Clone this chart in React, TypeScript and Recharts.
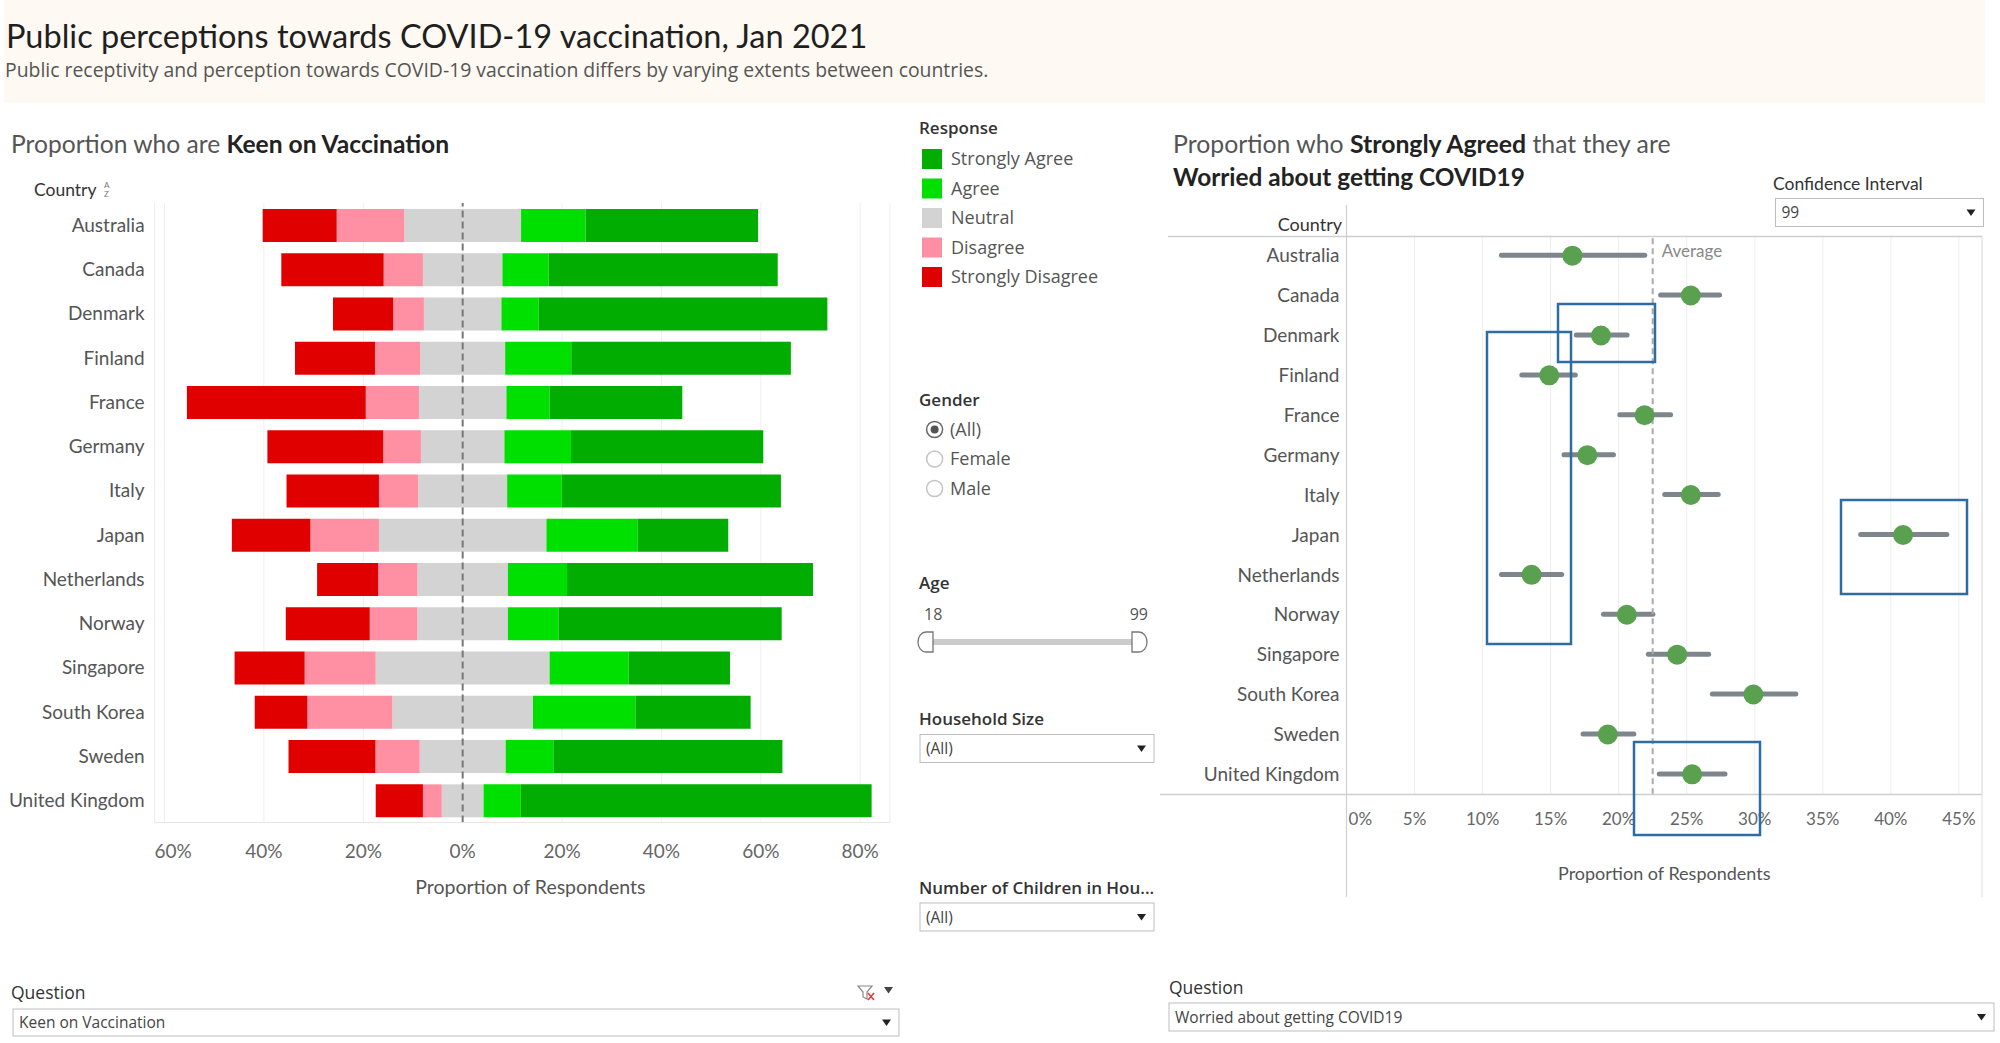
import React from "react"
import {
  BarChart,
  Bar,
  ComposedChart,
  Line,
  XAxis,
  YAxis,
  CartesianGrid,
  ReferenceLine,
} from "recharts"

const VIZ_FONT = "Lato, 'Open Sans', sans-serif"
const UI_FONT = "'Open Sans', Lato, sans-serif"

const countries = [
  "Australia",
  "Canada",
  "Denmark",
  "Finland",
  "France",
  "Germany",
  "Italy",
  "Japan",
  "Netherlands",
  "Norway",
  "Singapore",
  "South Korea",
  "Sweden",
  "United Kingdom",
]

// Keen on Vaccination, % of respondents per answer
const stronglyDisagree = [14.9, 20.6, 12.1, 16.1, 36.0, 23.3, 18.6, 15.8, 12.3, 16.9, 14.1, 10.6, 17.5, 9.5]
const disagree = [13.6, 7.9, 6.2, 9.1, 10.7, 7.6, 7.9, 13.8, 7.9, 9.6, 14.3, 17.1, 8.9, 3.8]
const neutral = [23.5, 16.0, 15.6, 17.1, 17.6, 16.8, 17.9, 33.7, 18.2, 18.2, 35.0, 28.3, 17.3, 8.4]
const agree = [13.0, 9.3, 7.5, 13.3, 8.7, 13.4, 11.0, 18.4, 11.9, 10.2, 15.9, 20.6, 9.6, 7.5]
const stronglyAgree = [34.7, 46.1, 58.1, 44.2, 26.7, 38.7, 44.1, 18.2, 49.5, 44.9, 20.4, 23.2, 46.1, 70.6]
const likertTicks = [-60, -40, -20, 0, 20, 40, 60, 80]

// Strongly agreed: worried about getting COVID19 (%, 99% interval)
const worriedEstimate = [16.6, 25.3, 18.7, 14.9, 21.9, 17.7, 25.3, 40.9, 13.6, 20.6, 24.3, 29.9, 19.2, 25.4]
const worriedLow = [11.2, 22.9, 16.7, 12.7, 19.9, 15.8, 23.2, 37.6, 11.2, 18.7, 22.0, 26.7, 17.2, 22.8]
const worriedHigh = [22.1, 27.6, 20.8, 17.0, 24.0, 19.8, 27.5, 44.3, 16.0, 22.7, 26.8, 33.2, 21.3, 28.0]
const worriedAverage = 22.5
const worriedTicks = [0, 5, 10, 15, 20, 25, 30, 35, 40, 45]

const responses = ["Strongly Agree", "Agree", "Neutral", "Disagree", "Strongly Disagree"]
const responseColors = ["#00ad00", "#00e000", "#d3d3d3", "#ff8fa3", "#e00000"]
const genderOptions = ["(All)", "Female", "Male"]

const likertRows = countries.map((country, i) => ({
  country,
  neutralLeft: -neutral[i] / 2,
  disagree: -disagree[i],
  stronglyDisagree: -stronglyDisagree[i],
  neutralRight: neutral[i] / 2,
  agree: agree[i],
  stronglyAgree: stronglyAgree[i],
}))

const worriedRows = countries.map((country, i) => ({
  country,
  ci: [worriedLow[i], worriedHigh[i]],
  estimate: worriedEstimate[i],
}))

function LikertTick(props: any) {
  const { x, y, payload, index } = props
  const first = index === 0
  return (
    <text
      x={first ? x - 10 : x}
      y={y + 33}
      textAnchor={first ? "start" : "middle"}
      fill="#666"
      fontSize={19}
      fontFamily={VIZ_FONT}
    >
      {Math.abs(payload.value)}%
    </text>
  )
}

function WorriedTick(props: any) {
  const { x, y, payload, index } = props
  const first = index === 0
  return (
    <text
      x={first ? x + 2 : x}
      y={y + 29}
      textAnchor={first ? "start" : "middle"}
      fill="#666"
      fontSize={17}
      fontFamily={VIZ_FONT}
    >
      {payload.value}%
    </text>
  )
}

function Dropdown({ x, y, w, h, text }: { x: number; y: number; w: number; h: number; text: string }) {
  return (
    <g>
      <rect x={x} y={y} width={w} height={h} fill="#fff" stroke="#bdbdbd" />
      <text x={x + 6} y={y + h / 2 + 5.5} fontSize={15.5} fill="#444" fontFamily={UI_FONT}>
        {text}
      </text>
      <path d={`M${x + w - 17},${y + h / 2 - 3} l9,0 l-4.5,6.5 z`} fill="#222" />
    </g>
  )
}

function Overlay() {
  return (
    <svg
      width={2000}
      height={1043}
      style={{ position: "absolute", left: 0, top: 0, pointerEvents: "none" }}
    >
      {/* header band */}
      <rect x={4} y={0} width={1981} height={103} fill="#fef9f2" />
      <text x={6} y={48} fontFamily={VIZ_FONT} fontSize={32.5} fill="#1f1f1f">
        Public perceptions towards COVID-19 vaccination, Jan 2021
      </text>
      <text x={5} y={77} fontFamily={UI_FONT} fontSize={19.4} fill="#555">
        Public receptivity and perception towards COVID-19 vaccination differs by varying extents between countries.
      </text>

      {/* left sheet */}
      <text x={11} y={153} fontFamily={VIZ_FONT} fontSize={24.6} fill="#555">
        Proportion who are{" "}
        <tspan fontWeight={700} fill="#222">
          Keen on Vaccination
        </tspan>
      </text>
      <text x={34} y={196} fontFamily={VIZ_FONT} fontSize={17.5} fill="#333">
        Country
      </text>
      <text x={104} y={188} fontFamily={VIZ_FONT} fontSize={8} fill="#777">
        A
      </text>
      <text x={104} y={197} fontFamily={VIZ_FONT} fontSize={8} fill="#777">
        Z
      </text>

      {/* middle: legend and filters */}
      <text x={919} y={134} fontFamily={UI_FONT} fontSize={17} fontWeight={600} fill="#333">
        Response
      </text>
      {responses.map((r, i) => (
        <g key={r}>
          <rect x={922} y={149 + i * 29.5} width={20} height={20} fill={responseColors[i]} />
          <text x={951} y={165 + i * 29.5} fontFamily={UI_FONT} fontSize={18} fill="#555">
            {r}
          </text>
        </g>
      ))}

      <text x={919} y={406} fontFamily={UI_FONT} fontSize={17} fontWeight={600} fill="#333">
        Gender
      </text>
      {genderOptions.map((g, i) => (
        <g key={g}>
          <circle
            cx={934.6}
            cy={429.5 + i * 29.5}
            r={8}
            fill="#fff"
            stroke={i === 0 ? "#666" : "#c4c4c4"}
            strokeWidth={1.5}
          />
          {i === 0 && <circle cx={934.6} cy={429.5} r={4} fill="#555" />}
          <text x={950} y={435.5 + i * 29.5} fontFamily={UI_FONT} fontSize={18} fill="#555">
            {g}
          </text>
        </g>
      ))}

      <text x={919} y={589} fontFamily={UI_FONT} fontSize={17} fontWeight={600} fill="#333">
        Age
      </text>
      <text x={924} y={620} fontFamily={UI_FONT} fontSize={16} fill="#555">
        18
      </text>
      <text x={1148} y={620} textAnchor="end" fontFamily={UI_FONT} fontSize={16} fill="#555">
        99
      </text>
      <rect x={933} y={639} width={199} height={6} fill="#cccccc" />
      <path d="M933,632 H926 A8,10 0 0 0 926,652 H933 Z" fill="#fff" stroke="#777" strokeWidth={1.3} />
      <path d="M1132,632 H1139 A8,10 0 0 1 1139,652 H1132 Z" fill="#fff" stroke="#777" strokeWidth={1.3} />

      <text x={919} y={725} fontFamily={UI_FONT} fontSize={17} fontWeight={600} fill="#333">
        Household Size
      </text>
      <Dropdown x={920} y={734.5} w={234} h={28} text="(All)" />
      <text x={919} y={894} fontFamily={UI_FONT} fontSize={17} fontWeight={600} fill="#333">
        Number of Children in Hou...
      </text>
      <Dropdown x={920} y={903} w={234} h={28} text="(All)" />

      {/* bottom question filters */}
      <text x={11} y={999} fontFamily={UI_FONT} fontSize={17.5} fill="#333">
        Question
      </text>
      <path d="M858,986 h14 l-5,6 v7 l-4,-2 v-5 z" fill="none" stroke="#888" strokeWidth={1.2} />
      <path d="M868,993 l6,7 M874,993 l-6,7" stroke="#e23b3b" strokeWidth={1.6} />
      <path d="M884,987 l9,0 l-4.5,6.5 z" fill="#444" />
      <Dropdown x={13} y={1009} w={886} h={27} text="Keen on Vaccination" />

      <text x={1169} y={994} fontFamily={UI_FONT} fontSize={17.5} fill="#333">
        Question
      </text>
      <Dropdown x={1169} y={1003} w={825} h={28} text="Worried about getting COVID19" />

      {/* right sheet */}
      <text x={1173} y={153} fontFamily={VIZ_FONT} fontSize={24.8} fill="#555">
        Proportion who{" "}
        <tspan fontWeight={700} fill="#222">
          Strongly Agreed
        </tspan>{" "}
        that they are
      </text>
      <text x={1173} y={186} fontFamily={VIZ_FONT} fontSize={24.4} fontWeight={700} fill="#222">
        Worried about getting COVID19
      </text>
      <text x={1773} y={189.5} fontFamily={VIZ_FONT} fontSize={17.5} fill="#333">
        Confidence Interval
      </text>
      <Dropdown x={1775.5} y={198.5} w={208} h={28} text="99" />
      <text x={1342} y={231} textAnchor="end" fontFamily={VIZ_FONT} fontSize={18} fill="#333">
        Country
      </text>
      <line x1={1168} x2={1982} y1={236.5} y2={236.5} stroke="#cfcfcf" strokeWidth={1.5} />
      <line x1={1160} x2={1982} y1={794.5} y2={794.5} stroke="#cfcfcf" strokeWidth={1.5} />
      <line x1={1346.5} x2={1346.5} y1={205} y2={897} stroke="#cfcfcf" strokeWidth={1.2} />
      <line x1={1982} x2={1982} y1={237} y2={897} stroke="#e4e4e4" strokeWidth={1.2} />

      {/* highlight boxes */}
      <g fill="none" stroke="#2e6da4" strokeWidth={2.5}>
        <rect x={1558} y={304} width={97} height={58} />
        <rect x={1487} y={332} width={84} height={312} />
        <rect x={1841} y={500} width={126} height={94} />
        <rect x={1634} y={742} width={126} height={93} />
      </g>
    </svg>
  )
}

export default function App() {
  return (
    <div
      style={{
        position: "absolute",
        left: 0,
        top: 0,
        width: 2000,
        height: 1043,
        overflow: "hidden",
        background: "#fff",
        fontFamily: VIZ_FONT,
      }}
    >
      <div style={{ position: "absolute", left: 0, top: 0 }}>
        <BarChart
          width={900}
          height={930}
          data={likertRows}
          layout="vertical"
          stackOffset="sign"
          barSize={33}
          margin={{ top: 203, right: 10, bottom: 17.4, left: 0 }}
        >
          <CartesianGrid horizontal={false} stroke="#efefef" />
          <XAxis
            type="number"
            domain={[-62, 86]}
            ticks={likertTicks}
            allowDataOverflow
            tick={<LikertTick />}
            tickLine={false}
            tickSize={0}
            axisLine={{ stroke: "#e6e6e6" }}
            height={90}
            label={{
              value: "Proportion of Respondents",
              position: "insideBottom",
              offset: 19,
              dx: 8,
              fill: "#555",
              fontSize: 19.5,
            }}
          />
          <YAxis
            type="category"
            dataKey="country"
            width={154.6}
            interval={0}
            tickLine={false}
            tickSize={0}
            tickMargin={10}
            axisLine={{ stroke: "#eeeeee" }}
            tick={{ fill: "#555", fontSize: 19 }}
          />
          <Bar dataKey="neutralLeft" stackId="likert" fill={responseColors[2]} isAnimationActive={false} />
          <Bar dataKey="disagree" stackId="likert" fill={responseColors[3]} isAnimationActive={false} />
          <Bar dataKey="stronglyDisagree" stackId="likert" fill={responseColors[4]} isAnimationActive={false} />
          <Bar dataKey="neutralRight" stackId="likert" fill={responseColors[2]} isAnimationActive={false} />
          <Bar dataKey="agree" stackId="likert" fill={responseColors[1]} isAnimationActive={false} />
          <Bar dataKey="stronglyAgree" stackId="likert" fill={responseColors[0]} isAnimationActive={false} />
          <ReferenceLine x={0} stroke="#777" strokeWidth={2} strokeDasharray="7 4" />
        </BarChart>
      </div>

      <div style={{ position: "absolute", left: 1160, top: 0 }}>
        <ComposedChart
          width={840}
          height={930}
          data={worriedRows}
          layout="vertical"
          margin={{ top: 235.7, right: 18, bottom: 40.7, left: 0 }}
        >
          <CartesianGrid horizontal={false} stroke="#eeeeee" />
          <XAxis
            type="number"
            domain={[0, 46.7]}
            ticks={worriedTicks}
            allowDataOverflow
            tick={<WorriedTick />}
            tickLine={false}
            tickSize={0}
            axisLine={false}
            height={95}
            label={{
              value: "Proportion of Respondents",
              position: "insideBottom",
              offset: 9,
              fill: "#555",
              fontSize: 18,
            }}
          />
          <YAxis
            type="category"
            dataKey="country"
            width={186.5}
            interval={0}
            tickLine={false}
            tickSize={0}
            tickMargin={7}
            axisLine={false}
            tick={{ fill: "#555", fontSize: 19 }}
          />
          <ReferenceLine
            x={worriedAverage}
            stroke="#aaaaaa"
            strokeWidth={2}
            strokeDasharray="6 4"
            label={{ value: "Average", position: "insideTopLeft", offset: 9, fill: "#888", fontSize: 17 }}
          />
          <Bar dataKey="ci" fill="#7d868d" barSize={5} radius={2.5} isAnimationActive={false} />
          <Line
            dataKey="estimate"
            stroke="none"
            dot={{ r: 10, fill: "#59a14f", stroke: "none" }}
            activeDot={false}
            isAnimationActive={false}
          />
        </ComposedChart>
      </div>

      <Overlay />
    </div>
  )
}
